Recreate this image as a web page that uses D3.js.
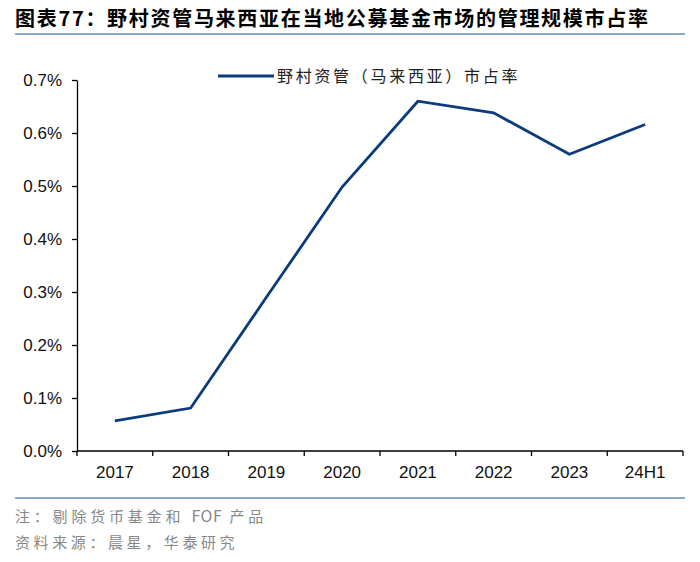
<!DOCTYPE html>
<html><head><meta charset="utf-8">
<script src="https://cdn.jsdelivr.net/npm/d3@7/dist/d3.min.js"></script>
<style>
body{margin:0;background:#fff;}
svg{display:block;}
</style></head>
<body>
<svg id="c" width="700" height="562"></svg>
<script>
const categories = ["2017","2018","2019","2020","2021","2022","2023","24H1"];
const shareValues = [0.00057, 0.00081, 0.00290, 0.00498, 0.00660, 0.00638, 0.00560, 0.00616];
const yTickValues = [0, 0.001, 0.002, 0.003, 0.004, 0.005, 0.006, 0.007];
const seriesName = "野村资管（马来西亚）市占率";
const titleText = "图表77：野村资管马来西亚在当地公募基金市场的管理规模市占率";
const noteParts = ["注：剔除货币基金和 ", "FOF", " 产品"];
const sourceText = "资料来源：晨星，华泰研究";

const svg = d3.select("#c");
const cjk = "'Noto Sans CJK SC','Noto Sans',sans-serif";
const latin = "'Liberation Sans',Arial,sans-serif";

// title
svg.append("text").attr("x",15).attr("y",26)
  .attr("font-family",cjk).attr("font-weight","bold").attr("font-size",20)
  .attr("letter-spacing",1.7).attr("fill","#000").text(titleText);
svg.append("line").attr("x1",15).attr("x2",685).attr("y1",34).attr("y2",34)
  .attr("stroke","#8fa9c9").attr("stroke-width",2);

const x = d3.scaleBand().domain(categories).range([77,683]).padding(0);
const y = d3.scaleLinear().domain([0,0.007]).range([451,80]);

// y axis
const ya = svg.append("g").attr("transform","translate(77,0)")
  .call(d3.axisLeft(y).tickValues(yTickValues).tickFormat(d3.format(".1%")).tickSize(5).tickSizeOuter(0).tickPadding(10));
ya.select(".domain").attr("stroke","#000").attr("stroke-width",1.3);
ya.selectAll(".tick line").attr("stroke","#000").attr("stroke-width",1.3);
ya.selectAll("text").attr("font-family",latin).attr("font-size",17).attr("fill","#111");

// x axis
const xa = svg.append("g").attr("transform","translate(0,451)")
  .call(d3.axisBottom(x).tickSize(0).tickPadding(15));
xa.select(".domain").remove();
xa.selectAll("text").attr("font-family",latin).attr("font-size",17).attr("fill","#111");
const r = x.range();
xa.append("line").attr("x1",r[0]).attr("x2",r[1]).attr("y1",0).attr("y2",0)
  .attr("stroke","#000").attr("stroke-width",1.3);
xa.selectAll(".bt").data(d3.range(categories.length+1)).join("line")
  .attr("class","bt")
  .attr("x1",i=>r[0]+i*x.step()).attr("x2",i=>r[0]+i*x.step())
  .attr("y1",0).attr("y2",5).attr("stroke","#000").attr("stroke-width",1.3);

// line
const line = d3.line().x((d,i)=>x(categories[i])+x.bandwidth()/2).y(d=>y(d));
svg.append("path").datum(shareValues).attr("d",line)
  .attr("fill","none").attr("stroke","#0a3b7c").attr("stroke-width",2.8)
  .attr("stroke-linejoin","miter");

// legend
svg.append("line").attr("x1",218).attr("x2",274).attr("y1",76).attr("y2",76)
  .attr("stroke","#0a3b7c").attr("stroke-width",2.8);
svg.append("text").attr("x",277).attr("y",76).attr("dy","0.35em")
  .attr("font-family",cjk).attr("font-size",16).attr("letter-spacing",2.7)
  .attr("fill","#222").text(seriesName);

// footer
svg.append("line").attr("x1",15).attr("x2",685).attr("y1",498).attr("y2",498)
  .attr("stroke","#8fa9c9").attr("stroke-width",2);
const note = svg.append("text").attr("x",15).attr("y",517).attr("dy","0.35em")
  .attr("font-family",cjk).attr("font-size",15).attr("fill","#888");
noteParts.forEach((t,i)=>{
  note.append("tspan").attr("letter-spacing", i===1 ? 0.5 : 3.8).attr("font-size", i===1?16:15).text(t);
});
svg.append("text").attr("x",15).attr("y",543).attr("dy","0.35em")
  .attr("font-family",cjk).attr("font-size",15).attr("letter-spacing",3.6)
  .attr("fill","#888").text(sourceText);
</script>
</body></html>
